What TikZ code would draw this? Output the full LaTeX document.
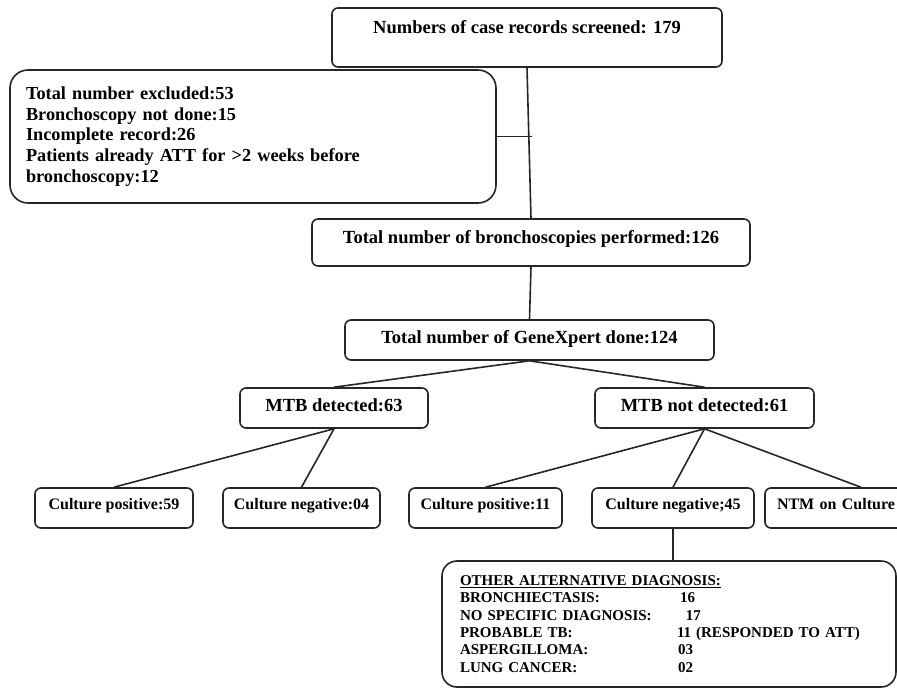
\documentclass[tikz,border=0pt]{standalone}
\usepackage{fontspec}
\setmainfont{Liberation Serif}
\begin{document}
\begin{tikzpicture}[x=1pt,y=-1pt,
  box/.style={draw=black!85, line width=1.6pt, rounded corners=6pt, inner xsep=0pt, inner ysep=0pt,
    font=\bfseries\fontsize{18.5}{20.75}\selectfont},
  mid/.style={text height=23pt, text depth=17pt},
  small/.style={font=\bfseries\fontsize{16}{18}\selectfont, text height=21.3pt, text depth=18.7pt},
  conn/.style={draw=black!85, line width=1.6pt}]
\useasboundingbox (0,0) rectangle (897,688);

% boxes
\node[box, minimum width=390pt, text height=26pt, text depth=33pt] (top) at (527,37.5)
  {Numbers of case records screened: 179};
\node[box, rounded corners=18pt, minimum width=486pt, minimum height=133pt, inner xsep=16pt,
  text width=454pt, align=left, font=\bfseries\fontsize{18.3}{20.75}\selectfont] (excl) at (253,136.5)
  {Total number excluded:53\\
   Bronchoscopy not done:15\\
   Incomplete record:26\\
   Patients already ATT for {>}2 weeks before\\
   bronchoscopy:12};
\node[box, minimum width=438pt, text height=24pt, text depth=23pt] (bronch) at (531,242.5)
  {Total number of bronchoscopies performed:126};
\node[box, mid, minimum width=369pt] (gx) at (529.5,340) {Total number of GeneXpert done:124};
\node[box, mid, minimum width=188pt] (mtbd) at (334,408) {MTB detected:63};
\node[box, mid, minimum width=219pt] (mtbn) at (704.5,408) {MTB not detected:61};
\node[box, small, minimum width=158pt] (cp59) at (114,508) {Culture positive:59};
\node[box, small, minimum width=157pt] (cn04) at (301.5,508) {Culture negative:04};
\node[box, small, minimum width=153pt] (cp11) at (485.5,508) {Culture positive:11};
\node[box, small, minimum width=162pt] (cn45) at (673,508) {Culture negative;45};
\node[box, small, inner xsep=12pt, text width=168pt, align=left] (ntm) at (861,508) {NTM on Culture};
\node[box, rounded corners=15pt, minimum width=454pt, minimum height=126pt, inner xsep=18pt,
  text width=418pt, align=left, font=\bfseries\fontsize{15}{17.4}\selectfont] (alt) at (669,624)
  {\underline{OTHER ALTERNATIVE DIAGNOSIS:}\\
   \makebox[220pt][l]{BRONCHIECTASIS:}16\\
   \makebox[226pt][l]{NO SPECIFIC DIAGNOSIS:}17\\
   \makebox[217pt][l]{PROBABLE TB:}11 (RESPONDED TO ATT)\\
   \makebox[218pt][l]{ASPERGILLOMA:}03\\
   \makebox[218pt][l]{LUNG CANCER:}02};

% connectors
\coordinate (tick) at (532,136.5);
\draw[conn] (top.south) -- (bronch.north);
\draw[conn] (excl.east) -- (tick);
\draw[conn] (bronch.south) -- (gx.north);
\draw[conn] (gx.south) -- (mtbd.north);
\draw[conn] (gx.south) -- (mtbn.north);
\draw[conn] (mtbd.south) -- (cp59.north);
\draw[conn] (mtbd.south) -- (cn04.north);
\draw[conn] (mtbn.south) -- (cp11.north);
\draw[conn] (mtbn.south) -- (cn45.north);
\draw[conn] (mtbn.south) -- (ntm.north);
\draw[conn] (cn45.south) -- (cn45.south |- alt.north);
\end{tikzpicture}
\end{document}
